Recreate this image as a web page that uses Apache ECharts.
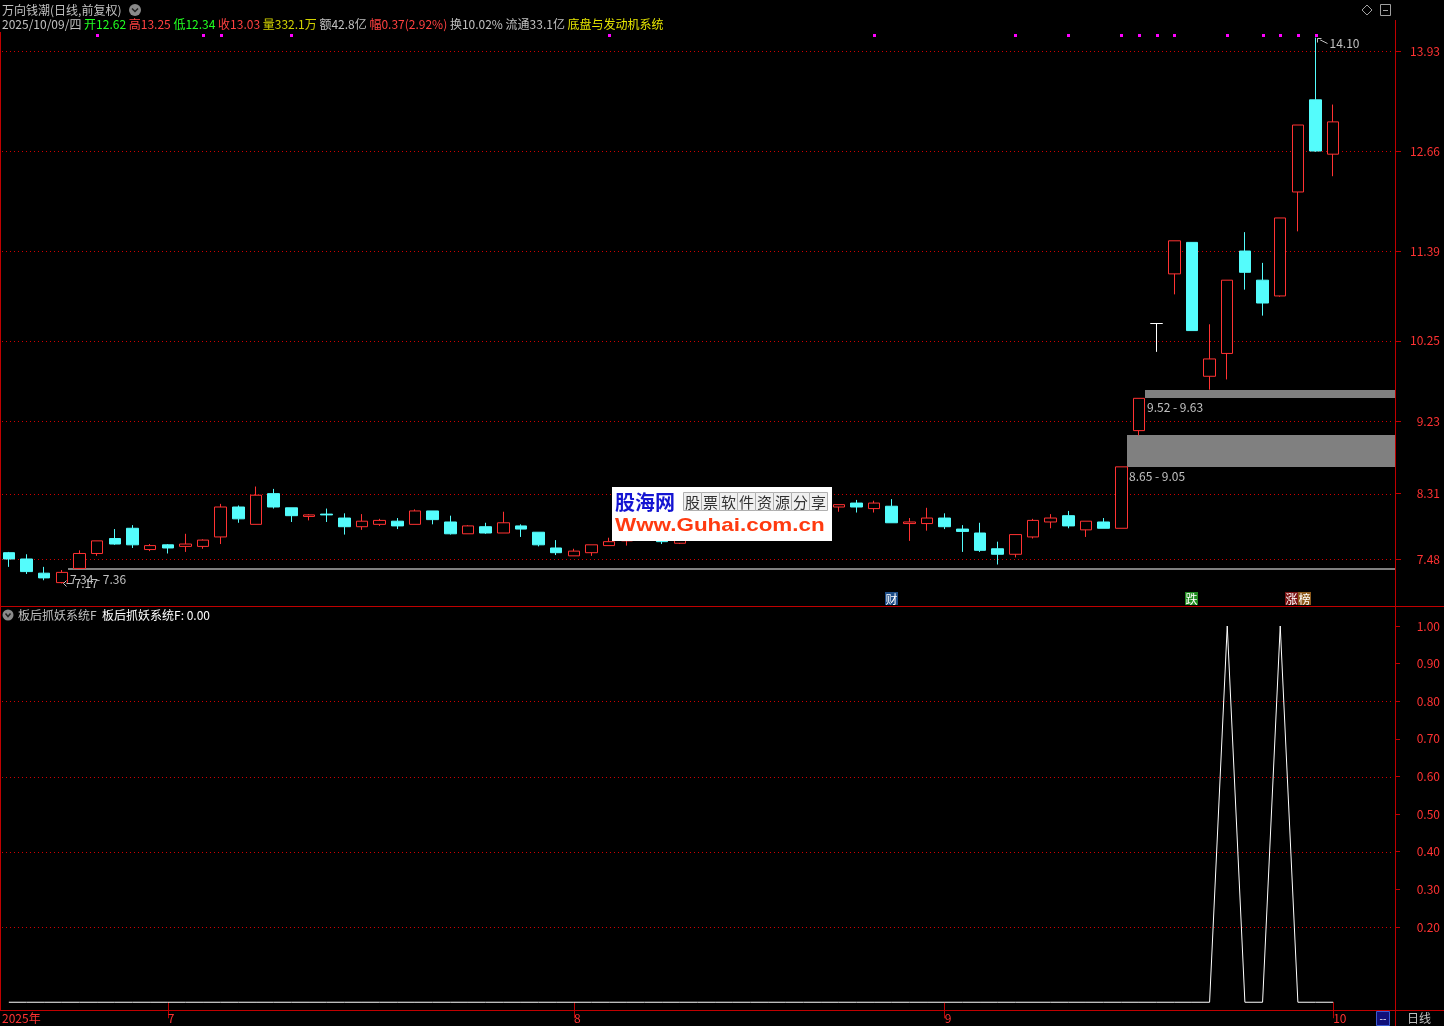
<!DOCTYPE html>
<html><head><meta charset="utf-8">
<script src="https://cdn.jsdelivr.net/npm/echarts@6/dist/echarts.min.js"></script>
<style>html,body{margin:0;padding:0;background:#000;}#c{width:1444px;height:1026px;}</style>
</head><body><div id="c"></div>
<script>
// ---------------- data ----------------
const dates = [
 '2025-06-18','2025-06-19','2025-06-20','2025-06-23','2025-06-24','2025-06-25','2025-06-26','2025-06-27','2025-06-30',
 '2025-07-01','2025-07-02','2025-07-03','2025-07-04','2025-07-07','2025-07-08','2025-07-09','2025-07-10','2025-07-11',
 '2025-07-14','2025-07-15','2025-07-16','2025-07-17','2025-07-18','2025-07-21','2025-07-22','2025-07-23','2025-07-24',
 '2025-07-25','2025-07-28','2025-07-29','2025-07-30','2025-07-31',
 '2025-08-01','2025-08-04','2025-08-05','2025-08-06','2025-08-07','2025-08-08','2025-08-11','2025-08-12','2025-08-13',
 '2025-08-14','2025-08-15','2025-08-18','2025-08-19','2025-08-20','2025-08-21','2025-08-22','2025-08-25','2025-08-26',
 '2025-08-27','2025-08-28','2025-08-29',
 '2025-09-01','2025-09-02','2025-09-03','2025-09-04','2025-09-05','2025-09-08','2025-09-09','2025-09-10','2025-09-11',
 '2025-09-12','2025-09-15','2025-09-16','2025-09-17','2025-09-18','2025-09-19','2025-09-22','2025-09-23','2025-09-24',
 '2025-09-25','2025-09-26','2025-09-29','2025-09-30',
 '2025-10-09'
];
const opens  = [7.56,7.48,7.30,7.18,7.36,7.55,7.74,7.87,7.60,7.66,7.64,7.64,7.76,8.14,7.92,8.31,8.13,8.02,8.05,8.00,
                7.89,7.92,7.96,7.92,8.09,7.95,7.80,7.89,7.81,7.90,7.82,7.62,7.52,7.56,7.65,7.71,7.80,7.79,7.68,7.82,
                7.92,7.88,7.99,8.07,8.03,8.12,8.09,8.14,8.19,8.12,8.15,7.93,7.93,8.00,7.86,7.81,7.61,7.54,7.76,7.95,
                8.03,7.85,7.95,7.87,9.11,10.47,11.10,11.50,9.80,10.09,11.39,11.02,10.82,12.14,13.31,12.62];
const closes = [7.48,7.32,7.24,7.31,7.55,7.71,7.67,7.66,7.65,7.62,7.67,7.72,8.14,7.99,8.29,8.14,8.03,8.04,8.04,7.89,
                7.96,7.97,7.90,8.09,7.98,7.80,7.90,7.81,7.94,7.86,7.66,7.56,7.58,7.66,7.70,7.78,7.75,7.70,7.80,7.90,
                7.88,7.98,8.06,8.02,8.10,8.08,8.14,8.17,8.14,8.19,7.94,7.95,8.00,7.89,7.83,7.59,7.54,7.79,7.97,8.00,
                7.90,7.96,7.87,8.65,9.52,10.47,11.52,10.38,10.02,11.02,11.12,10.73,11.81,12.99,12.66,13.03];
const lows   = [7.38,7.29,7.21,7.17,7.36,7.52,7.66,7.62,7.58,7.55,7.57,7.61,7.67,7.94,7.92,8.12,7.95,7.97,7.95,7.79,
                7.85,7.90,7.86,7.92,7.92,7.79,7.80,7.80,7.81,7.76,7.64,7.53,7.52,7.52,7.65,7.65,7.72,7.67,7.67,7.79,
                7.85,7.86,7.96,7.98,8.00,8.05,8.06,8.08,8.07,8.07,7.94,7.71,7.84,7.86,7.57,7.57,7.41,7.50,7.74,7.87,
                7.87,7.76,7.87,7.87,9.05,10.11,10.84,10.38,9.63,9.76,10.90,10.57,10.81,11.64,12.65,12.34];
const highs  = [7.57,7.54,7.38,7.34,7.59,7.71,7.86,7.91,7.67,7.67,7.80,7.73,8.18,8.16,8.40,8.37,8.13,8.05,8.12,8.06,
                8.05,7.99,8.00,8.11,8.09,8.03,7.91,7.94,8.08,7.92,7.82,7.72,7.61,7.66,7.75,7.82,7.84,7.83,7.85,7.95,
                7.98,8.02,8.10,8.12,8.14,8.18,8.20,8.17,8.23,8.22,8.24,8.00,8.13,8.06,7.91,7.94,7.70,7.79,7.99,8.05,
                8.09,7.96,8.00,8.65,9.52,10.47,11.52,11.50,10.46,11.02,11.63,11.24,11.81,12.99,14.10,13.25];
const signal = [0,0,0,0,0,0,0,0,0,0, 0,0,0,0,0,0,0,0,0,0, 0,0,0,0,0,0,0,0,0,0, 0,0,0,0,0,0,0,0,0,0,
                0,0,0,0,0,0,0,0,0,0, 0,0,0,0,0,0,0,0,0,0, 0,0,0,0,0,0,0,0,0,1, 0,0,1,0,0,0];
const dotIdx = [5,11,12,16,34,49,57,60,63,64,65,66,69,71,72,73,74];
const badgeIdx = [50,67,73];
const badgeText = ['财','跌','涨榜'];
const gapStart = [3,63,64];
const gapLow  = [7.34,8.65,9.52];
const gapHigh = [7.36,9.05,9.63];
const priceTicks = [7.48,8.31,9.23,10.25,11.39,12.66,13.93];
const indTicks = [0.2,0.3,0.4,0.5,0.6,0.7,0.8,0.9,1.0];
const indGridVals = [0.2,0.4,0.6,0.8];
const monthStartIdx = [9,32,53,75];
const monthLabels = ['7','8','9','10'];
const yearLabel = '2025年';
const stockTitle = '万向钱潮(日线,前复权)';
const quote = {date:'2025/10/09/四', open:'12.62', high:'13.25', low:'12.34', close:'13.03', vol:'332.1万',
               amt:'42.8亿', chg:'0.37(2.92%)', turn:'10.02%', flt:'33.1亿', sector:'底盘与发动机系统'};
const indName = '板后抓妖系统F';
const indValue = '0.00';

// ---------------- chart ----------------
const FONT = '"Noto Sans CJK SC", "Noto Sans", sans-serif';
const RED = '#ff3232', CYAN = '#54fcfc', AX = '#c00000', DOT = '#d00000', GRAYT = '#c0c0c0';
const cats = dates.concat(['+1','+2','+3']);
const candleData = dates.map((d,i)=>{
  const v=[opens[i],closes[i],lows[i],highs[i]];
  return opens[i]===closes[i] ? {value:v, itemStyle:{color:'#fff',borderColor:'#fff',color0:'#fff',borderColor0:'#fff'}} : v;
});
let maxI=0,minI=0;
highs.forEach((h,i)=>{ if(h>highs[maxI]) maxI=i; });
lows.forEach((l,i)=>{ if(l<lows[minI]) minI=i; });
const badgeBg = {'财':['#1c4c86'],'跌':['#1f8a1f'],'涨榜':['#7a1414','#8c5a1c']};

function gridLineSeries(xi, yi, vals){
  return {type:'custom',xAxisIndex:xi,yAxisIndex:yi,z:0,silent:true,
    data:vals.map(v=>[0,v]),
    renderItem:(params,api)=>{
      const p=api.coord([0,api.value(1)]);
      const cs=params.coordSys;
      const y=Math.round(p[1]);
      let d='';
      for(let x=Math.round(cs.x)+2;x<cs.x+cs.width-1;x+=4){ d+='M'+x+' '+y+'h1v1h-1Z'; }
      return {type:'path',shape:{pathData:d},style:{fill:DOT,stroke:null}};
    }};
}
const W = (o)=>Object.assign({z:100,zlevel:1},o);

const chart = echarts.init(document.getElementById('c'), null, {renderer:'canvas'});
const option = {
  backgroundColor:'#000',
  animation:false,
  grid:[{left:0,right:49,top:32,height:574},{left:0,right:49,top:607,height:403}],
  xAxis:[
    {type:'category',gridIndex:0,data:cats,boundaryGap:true,axisLine:{show:false},axisTick:{show:false},axisLabel:{show:false},splitLine:{show:false}},
    {type:'category',gridIndex:1,data:cats,boundaryGap:true,axisLine:{show:false},
     axisTick:{show:true,alignWithLabel:true,length:16,interval:(i)=>monthStartIdx.includes(i),lineStyle:{color:AX}},
     axisLabel:{show:true,interval:(i)=>monthStartIdx.includes(i),formatter:(v,i)=>monthLabels[monthStartIdx.indexOf(i)],
       align:'left',margin:2,padding:[0,0,0,0],color:RED,fontSize:12,fontFamily:FONT},
     splitLine:{show:false}}
  ],
  yAxis:[
    {type:'value',gridIndex:0,position:'right',min:6.8832,max:14.1712,splitLine:{show:false},
     axisLine:{show:false},
     axisTick:{show:true,customValues:priceTicks,length:6,lineStyle:{color:AX}},
     axisLabel:{customValues:priceTicks,formatter:(v)=>v.toFixed(2),color:RED,fontSize:12,fontFamily:FONT,align:'right',margin:45}},
    {type:'value',gridIndex:1,position:'right',min:-0.0206,max:1.0505,splitLine:{show:false},
     axisLine:{show:false},
     axisTick:{show:true,customValues:indTicks,length:5,lineStyle:{color:AX}},
     axisLabel:{customValues:indTicks,formatter:(v)=>v.toFixed(2),color:RED,fontSize:12,fontFamily:FONT,align:'right',margin:45}}
  ],
  series:[
    gridLineSeries(0,0,priceTicks),
    gridLineSeries(1,1,indGridVals),
    {type:'custom',xAxisIndex:0,yAxisIndex:0,z:1,silent:true,
     data:gapStart.map((s,i)=>[s,gapLow[i],gapHigh[i]]),
     renderItem:(params,api)=>{
       const idx=api.value(0), lo=api.value(1), hi=api.value(2);
       const pT=api.coord([idx,hi]), pB=api.coord([idx,lo]);
       const cs=params.coordSys;
       const x0=Math.round(pT[0]+6);
       const yT=Math.round(pT[1]);
       const h=Math.max(Math.round(pB[1])-yT,2);
       return {type:'group',children:[
         {type:'rect',shape:{x:x0,y:yT,width:cs.x+cs.width-x0,height:h},style:{fill:'#808080'}},
         {type:'text',x:x0+2,y:yT+h+3,style:{text:lo.toFixed(2)+' - '+hi.toFixed(2),fill:GRAYT,font:'12px '+FONT,verticalAlign:'top'}}
       ]};
     }},
    {type:'candlestick',xAxisIndex:0,yAxisIndex:0,z:2,data:candleData,barWidth:12,
     itemStyle:{color:'#000',color0:CYAN,borderColor:RED,borderColor0:CYAN,borderWidth:1}},
    {type:'custom',xAxisIndex:0,yAxisIndex:0,z:3,silent:true,
     data:[[maxI,highs[maxI],1],[minI,lows[minI],-1]],
     renderItem:(params,api)=>{
       const p=api.coord([api.value(0),api.value(1)]);
       const up=api.value(2)>0;
       const x=Math.round(p[0])+1.5, y=Math.round(p[1])+0.5;
       const ls={stroke:GRAYT,lineWidth:1};
       if(up){
         return {type:'group',children:[
           {type:'polyline',shape:{points:[[x,y],[x+10,y+5]]},style:ls},
           {type:'polyline',shape:{points:[[x+4,y],[x,y],[x,y+4]]},style:ls},
           {type:'text',x:x+12,y:y+5,style:{text:api.value(1).toFixed(2),fill:GRAYT,font:'12px '+FONT,verticalAlign:'middle'}}
         ]};
       }
       return {type:'group',children:[
         {type:'polyline',shape:{points:[[x,y],[x+9,y]]},style:ls},
         {type:'polyline',shape:{points:[[x+3,y-3],[x,y],[x+3,y+3]]},style:ls},
         {type:'text',x:x+11,y:y,style:{text:api.value(1).toFixed(2),fill:GRAYT,font:'12px '+FONT,verticalAlign:'middle'}}
       ]};
     }},
    {type:'custom',xAxisIndex:0,yAxisIndex:0,z:3,silent:true,clip:false,
     data:dotIdx.map(i=>[i]),
     renderItem:(params,api)=>{
       const p=api.coord([api.value(0),10]);
       const cs=params.coordSys;
       return {type:'rect',shape:{x:Math.round(p[0])-1,y:cs.y+2,width:3,height:3},style:{fill:'#ff00ff'}};
     }},
    {type:'custom',xAxisIndex:0,yAxisIndex:0,z:3,silent:true,clip:false,
     data:badgeIdx.map((b,i)=>[b,i]),
     renderItem:(params,api)=>{
       const p=api.coord([api.value(0),10]);
       const cs=params.coordSys;
       const t=badgeText[api.value(1)];
       const bg=badgeBg[t];
       const w=13, n=t.length;
       const x0=Math.round(p[0]-w*n/2), y0=cs.y+cs.height-14;
       const ch=[];
       for(let k=0;k<n;k++){
         ch.push({type:'rect',shape:{x:x0+k*w,y:y0,width:w,height:13},style:{fill:bg[k]||bg[0]}});
         ch.push({type:'text',x:x0+k*w+w/2,y:y0+7,style:{text:t[k],fill:'#ffffff',font:'12px '+FONT,align:'center',verticalAlign:'middle'}});
       }
       return {type:'group',children:ch};
     }},
    {type:'line',xAxisIndex:1,yAxisIndex:1,z:2,data:signal,showSymbol:false,symbol:'none',
     lineStyle:{color:'#ffffff',width:1},itemStyle:{color:'#fff'}}
  ],
  graphic:[
    // frame lines
    {type:'line',shape:{x1:0,y1:606.5,x2:1444,y2:606.5},style:{stroke:AX,lineWidth:1},z:50},
    {type:'line',shape:{x1:0,y1:1010.5,x2:1444,y2:1010.5},style:{stroke:AX,lineWidth:1},z:50},
    {type:'line',shape:{x1:1395.5,y1:20,x2:1395.5,y2:1026},style:{stroke:AX,lineWidth:1},z:50},
    {type:'line',shape:{x1:0.5,y1:32,x2:0.5,y2:1010},style:{stroke:AX,lineWidth:1},z:50},
    // header line 1
    {type:'text',x:2,y:10,z:50,style:{text:stockTitle,fill:GRAYT,font:'12px '+FONT,verticalAlign:'middle'}},
    {type:'circle',shape:{cx:135,cy:10,r:6},style:{fill:'#8a8a8a'},z:50},
    {type:'polyline',shape:{points:[[132,8.5],[135,11.5],[138,8.5]]},style:{stroke:'#222',lineWidth:1.5},z:51},
    // header line 2
    {type:'text',x:2,y:24,z:50,style:{
      text:'{w|'+quote.date+'} {g|开'+quote.open+'} {r|高'+quote.high+'} {g|低'+quote.low+'} {r|收'+quote.close+'} {y|量'+quote.vol+'} {w|额'+quote.amt+'} {r|幅'+quote.chg+'} {w|换'+quote.turn+'} {w|流通'+quote.flt+'} {s|'+quote.sector+'}',
      font:'12px '+FONT,verticalAlign:'middle',fill:GRAYT,
      rich:{w:{fill:GRAYT,font:'12px '+FONT},g:{fill:'#20ff20',font:'12px '+FONT},r:{fill:'#ff4040',font:'12px '+FONT},
            y:{fill:'#d2d200',font:'12px '+FONT},s:{fill:'#e6e600',font:'12px '+FONT}}}},
    // top-right icons
    {type:'polygon',shape:{points:[[1367,5],[1372,10],[1367,15],[1362,10]]},style:{fill:'none',stroke:'#a0a0a0',lineWidth:1},z:50},
    {type:'rect',shape:{x:1380.5,y:4.5,width:10,height:11},style:{fill:'none',stroke:'#a0a0a0',lineWidth:1},z:50},
    {type:'line',shape:{x1:1383,y1:10.5,x2:1388,y2:10.5},style:{stroke:'#a0a0a0',lineWidth:1},z:50},
    // lower pane header
    {type:'circle',shape:{cx:8,cy:615,r:5.5},style:{fill:'#8a8a8a'},z:50},
    {type:'polyline',shape:{points:[[5.5,613.5],[8,616.5],[10.5,613.5]]},style:{stroke:'#222',lineWidth:1.5},z:51},
    {type:'text',x:18,y:615,z:50,style:{text:'{g|'+indName+'}  {w|'+indName+': '+indValue+'}',font:'12px '+FONT,verticalAlign:'middle',
      rich:{g:{fill:GRAYT,font:'12px '+FONT},w:{fill:'#ffffff',font:'12px '+FONT}}}},
    // bottom row
    {type:'text',x:2,y:1018,z:50,style:{text:yearLabel,fill:RED,font:'12px '+FONT,verticalAlign:'middle'}},
    {type:'rect',shape:{x:1376.5,y:1011.5,width:13,height:14},style:{fill:'#10107a',stroke:'#3a5ad0',lineWidth:1},z:50},
    {type:'text',x:1383,y:1018,z:51,style:{text:'--',fill:'#ffffff',font:'10px '+FONT,align:'center',verticalAlign:'middle'}},
    {type:'text',x:1407,y:1018,z:50,style:{text:'日线',fill:GRAYT,font:'12px '+FONT,verticalAlign:'middle'}},
    // watermark
    W({type:'rect',shape:{x:612,y:487,width:220,height:54},style:{fill:'#ffffff'}}),
    W({type:'text',x:615,y:502,style:{text:'股海网',fill:'#1414d2',font:'bold 20px '+FONT,verticalAlign:'middle'}}),
    ...'股票软件资源分享'.split('').map((c,k)=>W({type:'rect',shape:{x:683.5+k*18,y:492.5,width:18,height:18},style:{fill:'#f0f0f0',stroke:'#b0b0b0',lineWidth:1}})),
    ...'股票软件资源分享'.split('').map((c,k)=>W({type:'text',z:101,x:692.5+k*18,y:502,style:{text:c,fill:'#303030',font:'15px '+FONT,align:'center',verticalAlign:'middle'}})),
    W({type:'text',x:615,y:526,scaleX:1.18,originX:0,originY:0,style:{text:'Www.Guhai.com.cn',fill:'#ff3a10',font:'bold 19px "Liberation Sans", Arial, sans-serif',verticalAlign:'middle'}})
  ]
};
chart.setOption(option);
</script>
</body></html>
